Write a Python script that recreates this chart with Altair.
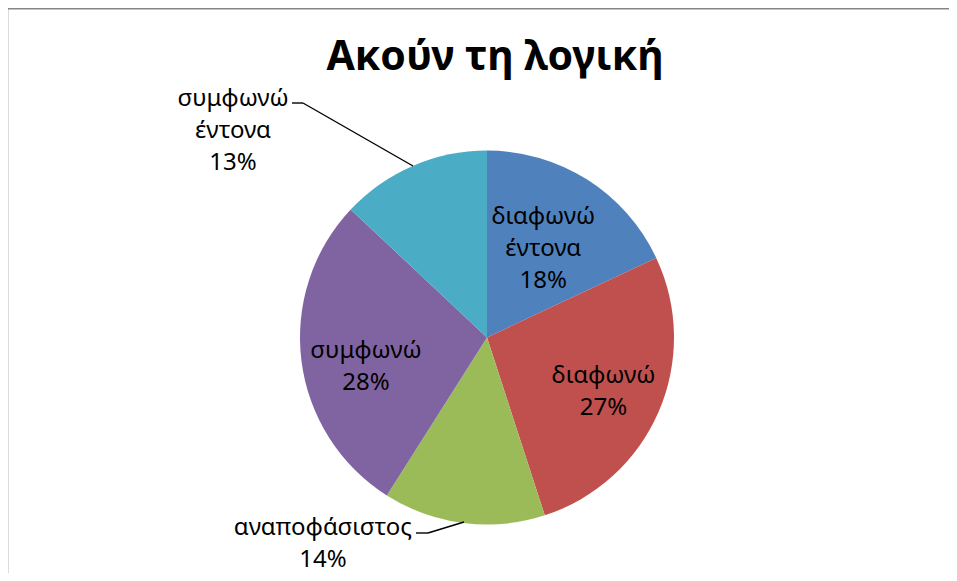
import math
import altair as alt
import pandas as pd

# ---- data ----
categories = ["διαφωνώ έντονα", "διαφωνώ", "αναποφάσιστος", "συμφωνώ", "συμφωνώ έντονα"]
values = [18, 27, 14, 28, 13]
colors = ["#4F81BD", "#C0504D", "#9BBB59", "#8064A2", "#4BACC6"]
labels = ["διαφωνώ\nέντονα\n18%", "διαφωνώ\n27%", "αναποφάσιστος\n14%", "συμφωνώ\n28%", "συμφωνώ\nέντονα\n13%"]
title_text = "Ακούν τη λογική"

df = pd.DataFrame({"cat": categories, "val": values, "idx": list(range(len(values))), "label": labels})
total = sum(values)

W, H = 941, 565
CX, CY = 479, 329.5
R = 187
FONT = "Noto Sans"
LH = 32

base = alt.Chart(df)

pie = base.mark_arc(outerRadius=R, strokeWidth=0).encode(
    theta=alt.Theta("val:Q", stack=True),
    order=alt.Order("idx:Q"),
    color=alt.Color("cat:N", scale=alt.Scale(domain=categories, range=colors), legend=None),
    x=alt.value(CX),
    y=alt.value(CY),
)


def label_layer(i, radius, dx, dy):
    nlines = labels[i].count("\n") + 1
    return (
        base.transform_window(cum="sum(val)", sort=[alt.SortField("idx")], frame=[None, 0])
        .transform_calculate(mid="datum.cum - datum.val / 2")
        .transform_filter(alt.datum.cat == categories[i])
        .mark_text(radius=radius, dx=dx, dy=dy - (nlines - 1) * LH / 2, font=FONT, fontSize=24,
                   lineBreak="\n", lineHeight=LH, align="center", baseline="middle", color="black")
        .encode(
            theta=alt.Theta("mid:Q", stack=False,
                            scale=alt.Scale(domain=[0, total], range=[0, 2 * math.pi])),
            text=alt.Text("label:N"),
            x=alt.value(CX),
            y=alt.value(CY),
        )
    )


lab1 = label_layer(0, 105, 0, 0)
lab2 = label_layer(1, 128, -1, 4)
lab3 = label_layer(2, 208, -138, 0)
lab4 = label_layer(3, 122, 0, 14)
lab5 = label_layer(4, 224, -165, -1)

one = pd.DataFrame({"k": [0]})


def seg(x1, y1, x2, y2, color="black", w=1.4):
    return alt.Chart(one).mark_rule(color=color, strokeWidth=w).encode(
        x=alt.value(x1), y=alt.value(y1), x2=alt.value(x2), y2=alt.value(y2)
    )


leaders = [
    seg(284, 95, 295, 95), seg(295, 95, 405, 158),
    seg(408, 525, 420, 525), seg(420, 525, 456, 514),
]

border = [
    seg(-0.7, 0, -0.7, H, color="#868686", w=2),
    seg(-1.7, 0.5, W, 0.5, color="#868686", w=2),
]

title = alt.Chart(one).mark_text(
    text=title_text, font=FONT, fontSize=41, fontWeight="bold", align="center",
    baseline="alphabetic", color="black"
).encode(x=alt.value(487), y=alt.value(62))

chart = alt.layer(
    pie, lab1, lab2, lab3, lab4, lab5, *leaders, *border, title
).resolve_scale(theta="independent").properties(
    width=W, height=H, autosize=alt.AutoSizeParams(type="none"), padding=0
).configure_view(stroke=None)

chart.save("out.html", embed_options={"renderer": "svg", "actions": False})
